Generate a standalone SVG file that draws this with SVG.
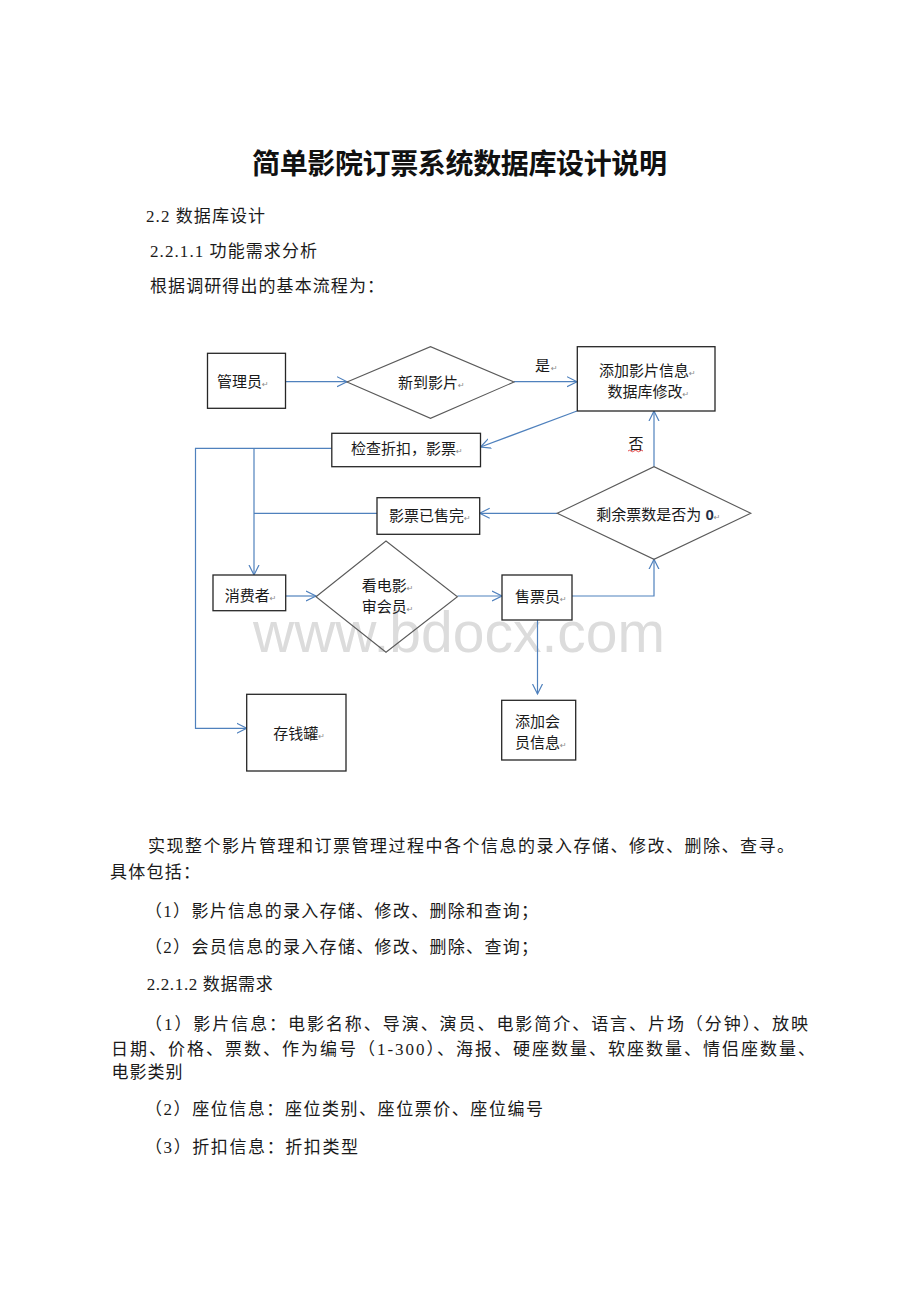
<svg xmlns="http://www.w3.org/2000/svg" width="920" height="1302" viewBox="0 0 920 1302">
<style>
.bg{fill:#ffffff}
.box{fill:#ffffff;stroke:#262626;stroke-width:1.3}
.dia{fill:none;stroke:#5a5a5a;stroke-width:1.1}
.con{fill:none;stroke:#4f81bd;stroke-width:1.2}
.lbl{font-family:"Liberation Sans","Noto Sans CJK SC",sans-serif;font-size:15px;fill:#1a1a1a}
.pm{font-family:"DejaVu Sans",sans-serif;font-size:8px;fill:#8a8a8a}
.body{font-family:"Liberation Serif","Noto Sans CJK SC",serif;font-size:17px;fill:#1a1a1a}
.title{font-family:"Liberation Sans","Noto Sans CJK SC",sans-serif;font-size:28px;font-weight:bold;fill:#111}
.wm{font-family:"Liberation Sans",Arial,sans-serif;font-size:57px;fill:#dcdcdc}
</style>
<defs>
<marker id="arr" markerUnits="userSpaceOnUse" markerWidth="12" markerHeight="12" refX="10" refY="5" orient="auto" viewBox="0 0 12 10">
<path d="M0,0 L10,5 L0,10" fill="none" stroke="#4f81bd" stroke-width="1.2"/>
</marker>
</defs>
<rect class="bg" x="0" y="0" width="920" height="1302"/>

<g id="text-header">
<text class="title" x="252" y="174" textLength="415">简单影院订票系统数据库设计说明</text>
<text class="body" x="146" y="221.5" textLength="119">2.2 数据库设计</text>
<text class="body" x="150" y="256.5" textLength="167">2.2.1.1 功能需求分析</text>
<text class="body" x="150" y="291.5" textLength="234">根据调研得出的基本流程为：</text>
</g>

<text id="watermark" class="wm" x="253" y="652" textLength="412">www.bdocx.com</text>

<g id="connectors">
<path class="con" d="M285.7,381.7 L347,381.7" marker-end="url(#arr)"/>
<path class="con" d="M514,381.7 L577,381.7" marker-end="url(#arr)"/>
<path class="con" d="M577,411 L480.5,447" marker-end="url(#arr)"/>
<path class="con" d="M331.8,448.3 L195.5,448.3 L195.5,728.3 L246.7,728.3" marker-end="url(#arr)"/>
<path class="con" d="M254,448.3 L254,575" marker-end="url(#arr)"/>
<path class="con" d="M557.2,513.3 L479.7,513.3" marker-end="url(#arr)"/>
<path class="con" d="M377,513.3 L254,513.3"/>
<path class="con" d="M285.7,596 L316,596" marker-end="url(#arr)"/>
<path class="con" d="M457.4,596 L502,596" marker-end="url(#arr)"/>
<path class="con" d="M572,596 L654,596 L654,559.3" marker-end="url(#arr)"/>
<path class="con" d="M654,466.7 L654,411" marker-end="url(#arr)"/>
<path class="con" d="M537.5,620 L537.5,694" marker-end="url(#arr)"/>
<text class="lbl" x="535" y="370.5">是<tspan class="pm" dx="1">↵</tspan></text>
<text class="lbl" x="628.5" y="448.5">否</text>
<path d="M628,451 q1.5,-1.5 3,0 t3,0 t3,0 t3,0 t3,0" fill="none" stroke="#e02020" stroke-width="0.8"/>
</g>

<g id="node-admin">
<rect class="box" x="207.5" y="353.3" width="78" height="55"/>
<text class="lbl" x="217" y="387">管理员<tspan class="pm">↵</tspan></text>
</g>

<g id="node-newfilm">
<polygon class="dia" points="347,382 430.5,346.7 514,382 430.5,418.3"/>
<text class="lbl" x="398" y="387.5">新到影片<tspan class="pm">↵</tspan></text>
</g>

<g id="node-addfilm">
<rect class="box" x="577.3" y="346.7" width="137.7" height="64.3"/>
<text class="lbl" x="599" y="375.5">添加影片信息<tspan class="pm">↵</tspan></text>
<text class="lbl" x="607.5" y="397">数据库修改<tspan class="pm">↵</tspan></text>
</g>

<g id="node-check">
<rect class="box" x="331.8" y="433.3" width="148.7" height="33.4"/>
<text class="lbl" x="351" y="454">检查折扣，影票<tspan class="pm">↵</tspan></text>
</g>

<g id="node-soldout">
<rect class="box" x="377" y="497.7" width="102.7" height="36.6"/>
<text class="lbl" x="389" y="520.5">影票已售完<tspan class="pm">↵</tspan></text>
</g>

<g id="node-remain">
<polygon class="dia" points="557.2,513.3 654,466.7 750.8,513.3 654,559.3"/>
<text class="lbl" x="596.3" y="520">剩余票数是否为 <tspan font-weight="bold" fill="#1f2f45">0</tspan><tspan class="pm">↵</tspan></text>
</g>

<g id="node-consumer">
<rect class="box" x="213" y="575" width="72.7" height="35.7"/>
<text class="lbl" x="224.7" y="600.5">消费者<tspan class="pm">↵</tspan></text>
</g>

<g id="node-watch">
<polygon class="dia" points="316,596.7 386,541 457.4,596.7 386,652.3"/>
<text class="lbl" x="361.7" y="590.5">看电影<tspan class="pm">↵</tspan></text>
<text class="lbl" x="361.7" y="612">审会员<tspan class="pm">↵</tspan></text>
</g>

<g id="node-seller">
<rect class="box" x="502" y="575" width="70" height="45"/>
<text class="lbl" x="515" y="602">售票员<tspan class="pm">↵</tspan></text>
</g>

<g id="node-piggy">
<rect class="box" x="246.7" y="694.3" width="99.3" height="76.7"/>
<text class="lbl" x="273.3" y="739">存钱罐<tspan class="pm">↵</tspan></text>
</g>

<g id="node-addmember">
<rect class="box" x="501.7" y="700.3" width="74" height="59.7"/>
<text class="lbl" x="515" y="726.5">添加会</text>
<text class="lbl" x="515" y="748">员信息<tspan class="pm">↵</tspan></text>
</g>

<g id="text-body">
<text class="body" x="148" y="851.5" textLength="646">实现整个影片管理和订票管理过程中各个信息的录入存储、修改、删除、查寻。</text>
<text class="body" x="110" y="878" textLength="90">具体包括：</text>
<text class="body" x="145" y="916.5" textLength="393">（1）影片信息的录入存储、修改、删除和查询；</text>
<text class="body" x="145" y="953" textLength="393">（2）会员信息的录入存储、修改、删除、查询；</text>
<text class="body" x="146.7" y="990" textLength="126">2.2.1.2 数据需求</text>
<text class="body" x="145" y="1030" textLength="663">（1）影片信息：电影名称、导演、演员、电影简介、语言、片场（分钟）、放映</text>
<text class="body" x="111" y="1055" textLength="704">日期、价格、票数、作为编号（1-300）、海报、硬座数量、软座数量、情侣座数量、</text>
<text class="body" x="111.5" y="1078" textLength="71">电影类别</text>
<text class="body" x="145" y="1115" textLength="398">（2）座位信息：座位类别、座位票价、座位编号</text>
<text class="body" x="145" y="1153" textLength="213">（3）折扣信息：折扣类型</text>
</g>
</svg>
